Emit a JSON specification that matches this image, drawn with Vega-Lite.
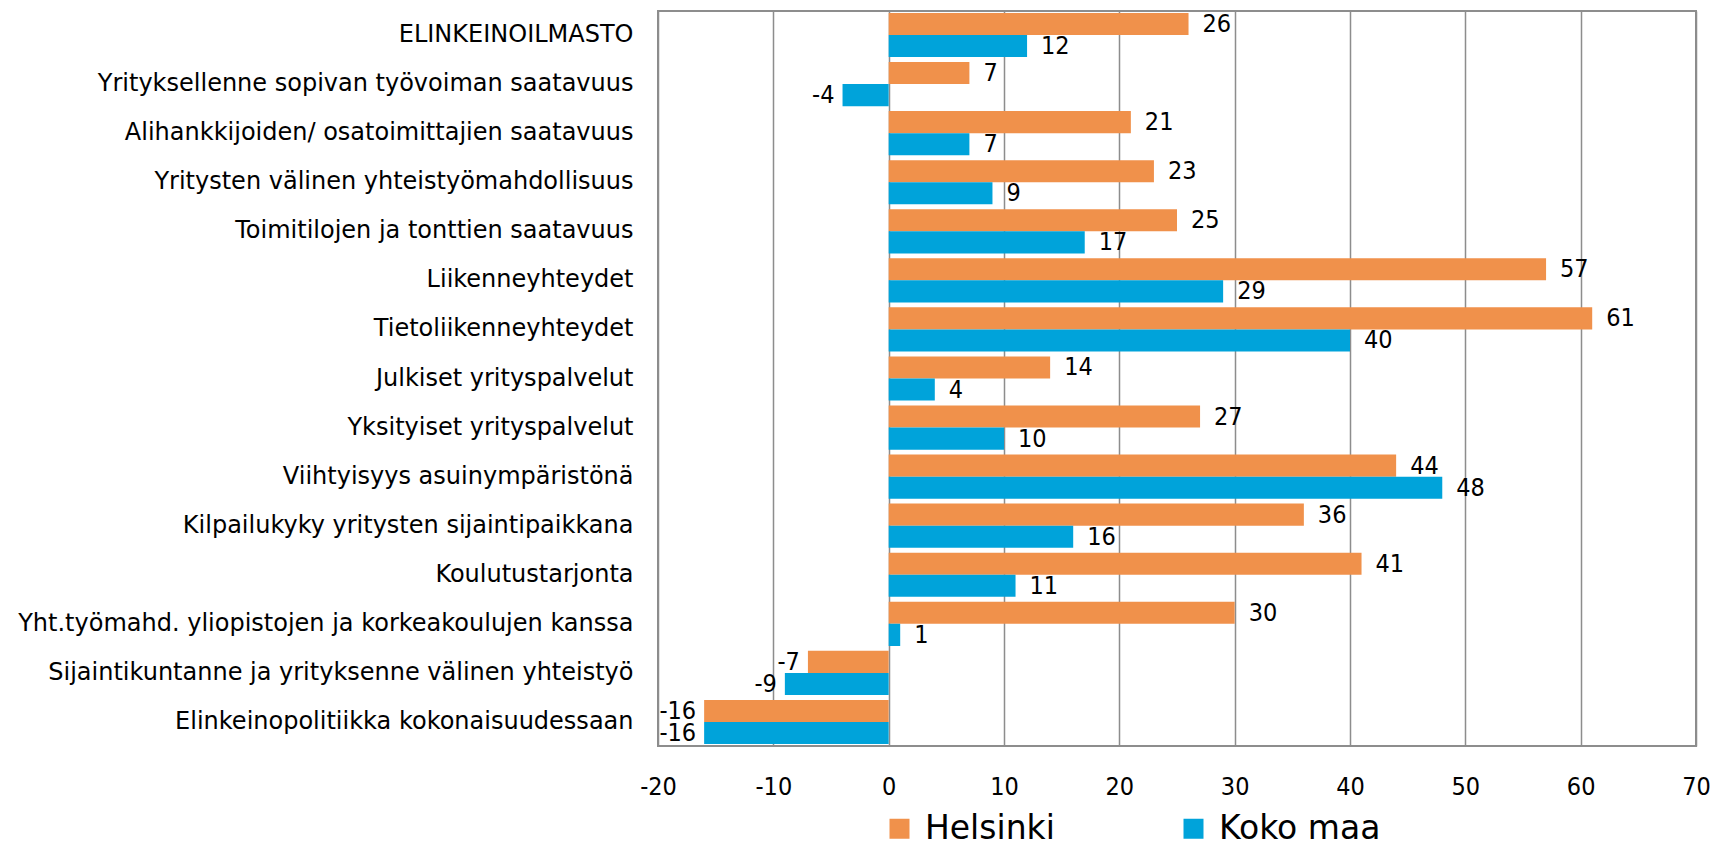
{
  "$schema": "https://vega.github.io/schema/vega-lite/v6.json",
  "width": 1038,
  "height": 735,
  "autosize": {"type": "none"},
  "padding": {"left": 658, "top": 11, "right": 17, "bottom": 95},
  "background": "white",
  "config": {
    "locale": {
      "number": {"decimal": ".", "thousands": ",", "grouping": [3], "currency": ["", ""], "minus": "-"}
    },
    "view": {"stroke": "#8d8d8d", "strokeWidth": 2},
    "axis": {"labelColor": "#000000", "domain": false, "ticks": false}
  },
  "data": {
    "values": [
      {"kategoria": "ELINKEINOILMASTO", "sarja": "Helsinki", "arvo": 26},
      {"kategoria": "ELINKEINOILMASTO", "sarja": "Koko maa", "arvo": 12},
      {"kategoria": "Yrityksellenne sopivan työvoiman saatavuus", "sarja": "Helsinki", "arvo": 7},
      {"kategoria": "Yrityksellenne sopivan työvoiman saatavuus", "sarja": "Koko maa", "arvo": -4},
      {"kategoria": "Alihankkijoiden/ osatoimittajien saatavuus", "sarja": "Helsinki", "arvo": 21},
      {"kategoria": "Alihankkijoiden/ osatoimittajien saatavuus", "sarja": "Koko maa", "arvo": 7},
      {"kategoria": "Yritysten välinen yhteistyömahdollisuus", "sarja": "Helsinki", "arvo": 23},
      {"kategoria": "Yritysten välinen yhteistyömahdollisuus", "sarja": "Koko maa", "arvo": 9},
      {"kategoria": "Toimitilojen ja tonttien saatavuus", "sarja": "Helsinki", "arvo": 25},
      {"kategoria": "Toimitilojen ja tonttien saatavuus", "sarja": "Koko maa", "arvo": 17},
      {"kategoria": "Liikenneyhteydet", "sarja": "Helsinki", "arvo": 57},
      {"kategoria": "Liikenneyhteydet", "sarja": "Koko maa", "arvo": 29},
      {"kategoria": "Tietoliikenneyhteydet", "sarja": "Helsinki", "arvo": 61},
      {"kategoria": "Tietoliikenneyhteydet", "sarja": "Koko maa", "arvo": 40},
      {"kategoria": "Julkiset yrityspalvelut", "sarja": "Helsinki", "arvo": 14},
      {"kategoria": "Julkiset yrityspalvelut", "sarja": "Koko maa", "arvo": 4},
      {"kategoria": "Yksityiset yrityspalvelut", "sarja": "Helsinki", "arvo": 27},
      {"kategoria": "Yksityiset yrityspalvelut", "sarja": "Koko maa", "arvo": 10},
      {"kategoria": "Viihtyisyys asuinympäristönä", "sarja": "Helsinki", "arvo": 44},
      {"kategoria": "Viihtyisyys asuinympäristönä", "sarja": "Koko maa", "arvo": 48},
      {"kategoria": "Kilpailukyky yritysten sijaintipaikkana", "sarja": "Helsinki", "arvo": 36},
      {"kategoria": "Kilpailukyky yritysten sijaintipaikkana", "sarja": "Koko maa", "arvo": 16},
      {"kategoria": "Koulutustarjonta", "sarja": "Helsinki", "arvo": 41},
      {"kategoria": "Koulutustarjonta", "sarja": "Koko maa", "arvo": 11},
      {"kategoria": "Yht.työmahd. yliopistojen ja korkeakoulujen kanssa", "sarja": "Helsinki", "arvo": 30},
      {"kategoria": "Yht.työmahd. yliopistojen ja korkeakoulujen kanssa", "sarja": "Koko maa", "arvo": 1},
      {"kategoria": "Sijaintikuntanne ja yrityksenne välinen yhteistyö", "sarja": "Helsinki", "arvo": -7},
      {"kategoria": "Sijaintikuntanne ja yrityksenne välinen yhteistyö", "sarja": "Koko maa", "arvo": -9},
      {"kategoria": "Elinkeinopolitiikka kokonaisuudessaan", "sarja": "Helsinki", "arvo": -16},
      {"kategoria": "Elinkeinopolitiikka kokonaisuudessaan", "sarja": "Koko maa", "arvo": -16}
    ]
  },
  "encoding": {
    "y": {
      "field": "kategoria",
      "type": "nominal",
      "sort": null,
      "scale": {"paddingInner": 0.1, "paddingOuter": 0.04},
      "axis": {
        "title": null,
        "labelFont": "DejaVu Sans",
        "labelFontSize": 24,
        "labelPadding": 25,
        "labelLimit": 800,
        "grid": false
      }
    },
    "yOffset": {
      "field": "sarja",
      "type": "nominal",
      "sort": ["Helsinki", "Koko maa"],
      "scale": {"paddingInner": 0, "paddingOuter": 0}
    },
    "x": {
      "field": "arvo",
      "type": "quantitative",
      "scale": {"domain": [-20, 70], "nice": false, "zero": false},
      "axis": {
        "title": null,
        "values": [-20, -10, 0, 10, 20, 30, 40, 50, 60, 70],
        "grid": true,
        "gridColor": "#8d8d8d",
        "gridWidth": 1.5,
        "labelFont": "DejaVu Sans Condensed",
        "labelFontSize": 25,
        "labelPadding": 28,
        "labelFlush": false
      }
    }
  },
  "layer": [
    {
      "mark": {"type": "bar"},
      "encoding": {
        "color": {
          "field": "sarja",
          "type": "nominal",
          "scale": {"domain": ["Helsinki", "Koko maa"], "range": ["#F0914B", "#00A3DA"]},
          "legend": {
            "title": null,
            "orient": "none",
            "direction": "horizontal",
            "legendX": 225,
            "legendY": 801,
            "padding": 0,
            "symbolType": "square",
            "symbolSize": 400,
            "symbolStrokeWidth": 0,
            "symbolOpacity": 1,
            "labelFont": "DejaVu Sans",
            "labelFontSize": 33,
            "labelColor": "#000000",
            "labelOffset": 9,
            "labelLimit": 400,
            "columnPadding": 122
          }
        }
      }
    },
    {
      "transform": [{"filter": "datum.arvo >= 0"}],
      "mark": {
        "type": "text",
        "align": "left",
        "baseline": "middle",
        "dx": 14,
        "font": "DejaVu Sans Condensed",
        "fontSize": 25,
        "color": "#000000"
      },
      "encoding": {"text": {"field": "arvo", "type": "quantitative"}}
    },
    {
      "transform": [{"filter": "datum.arvo < 0"}],
      "mark": {
        "type": "text",
        "align": "right",
        "baseline": "middle",
        "dx": -8,
        "font": "DejaVu Sans Condensed",
        "fontSize": 25,
        "color": "#000000"
      },
      "encoding": {"text": {"field": "arvo", "type": "quantitative"}}
    }
  ]
}
